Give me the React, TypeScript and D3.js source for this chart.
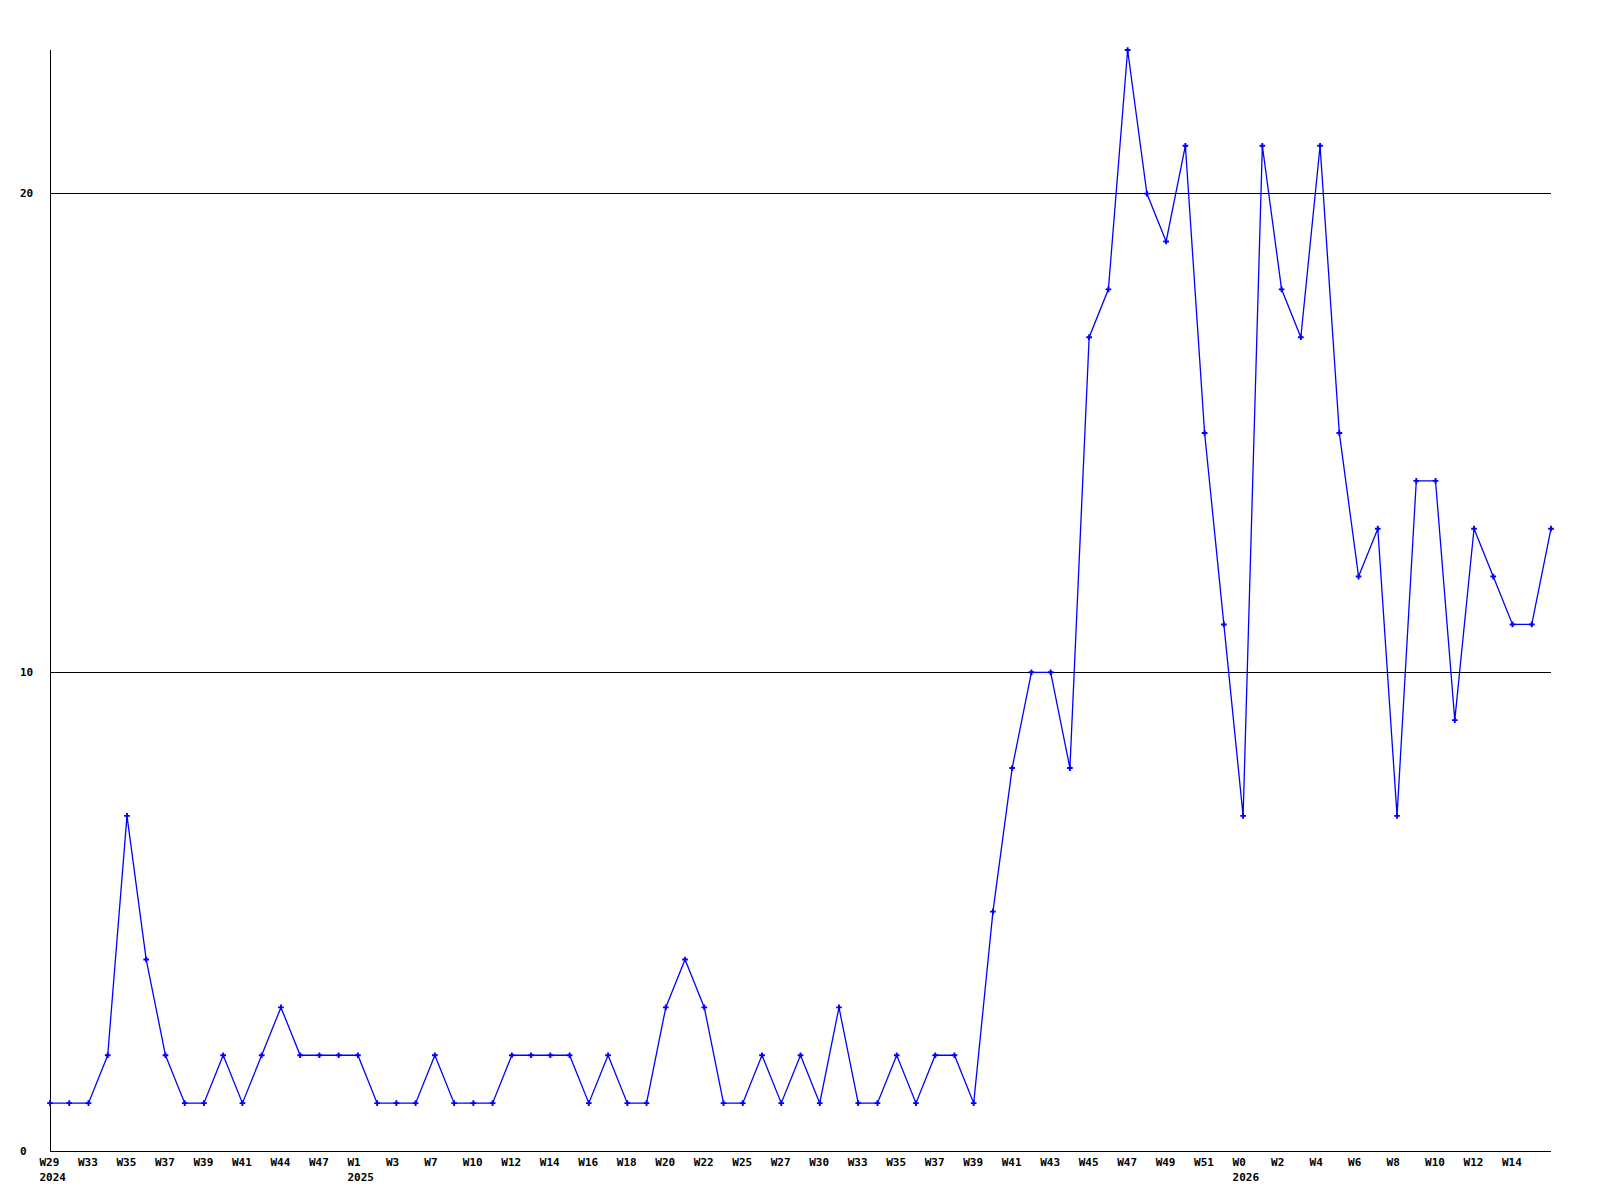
import { scaleLinear, scalePoint, line as d3Line, symbol, symbolCross } from "d3";

// weekly counts, one per point
const counts = [
  1, 1, 1, 2, 7, 4, 2, 1, 1, 2, 1, 2, 3, 2, 2, 2, 2, 1, 1, 1, 2, 1, 1, 1, 2, 2,
  2, 2, 1, 2, 1, 1, 3, 4, 3, 1, 1, 2, 1, 2, 1, 3, 1, 1, 2, 1, 2, 2, 1, 5, 8, 10,
  10, 8, 17, 18, 23, 20, 19, 21, 15, 11, 7, 21, 18, 17, 21, 15, 12, 13, 7, 14,
  14, 9, 13, 12, 11, 11, 13,
];

// every second point gets a week label
const weekLabels = [
  "W29", "W33", "W35", "W37", "W39", "W41", "W44", "W47", "W1", "W3", "W7",
  "W10", "W12", "W14", "W16", "W18", "W20", "W22", "W25", "W27", "W30", "W33",
  "W35", "W37", "W39", "W41", "W43", "W45", "W47", "W49", "W51", "W0", "W2",
  "W4", "W6", "W8", "W10", "W12", "W14",
];

// year under the first label of each year (index into weekLabels)
const yearLabels: [number, string][] = [
  [0, "2024"],
  [8, "2025"],
  [31, "2026"],
];

const yTicks = [0, 10, 20];
const yMax = 23;

export default function App() {
  const left = 50;
  const right = 1551;
  const top = 50;
  const bottom = 1151;

  const idx = counts.map((_, i) => i);
  const x = scalePoint<number>().domain(idx).range([left, right]);
  const y = scaleLinear().domain([0, yMax]).range([bottom, top]);

  const path = d3Line<number>()
    .x((_, i) => x(i) ?? 0)
    .y((d) => y(d))(counts) ?? "";

  const marker = symbol().type(symbolCross).size(18)() ?? "";
  const font = {
    fontFamily: "'DejaVu Sans Mono', monospace",
    fontSize: 11,
    fontWeight: "bold" as const,
  };

  return (
    <svg
      width={1600}
      height={1200}
      style={{ position: "absolute", left: 0, top: 0, background: "#fff" }}
    >
      {yTicks
        .filter((t) => t > 0)
        .map((t) => (
          <line
            key={`grid-${t}`}
            x1={left}
            x2={right}
            y1={y(t)}
            y2={y(t)}
            stroke="#000"
            shapeRendering="crispEdges"
          />
        ))}

      <line x1={left} x2={left} y1={top} y2={bottom} stroke="#000" shapeRendering="crispEdges" />
      <line x1={left} x2={right} y1={bottom} y2={bottom} stroke="#000" shapeRendering="crispEdges" />

      {yTicks.map((t) => (
        <text key={`yt-${t}`} x={20} y={y(t)} dy="0.35em" {...font}>
          {t}
        </text>
      ))}

      {weekLabels.map((w, i) => (
        <text key={`xt-${i}`} x={(x(i * 2) ?? 0) - 10.5} y={1166} {...font}>
          {w}
        </text>
      ))}
      {yearLabels.map(([i, yr]) => (
        <text key={`yr-${yr}`} x={(x(i * 2) ?? 0) - 10.5} y={1181} {...font}>
          {yr}
        </text>
      ))}

      <path d={path} fill="none" stroke="#0000ff" strokeWidth={1.3} />

      {counts.map((d, i) => (
        <path
          key={`pt-${i}`}
          d={marker}
          transform={`translate(${x(i)},${y(d)})`}
          fill="#0000ff"
        />
      ))}
    </svg>
  );
}
